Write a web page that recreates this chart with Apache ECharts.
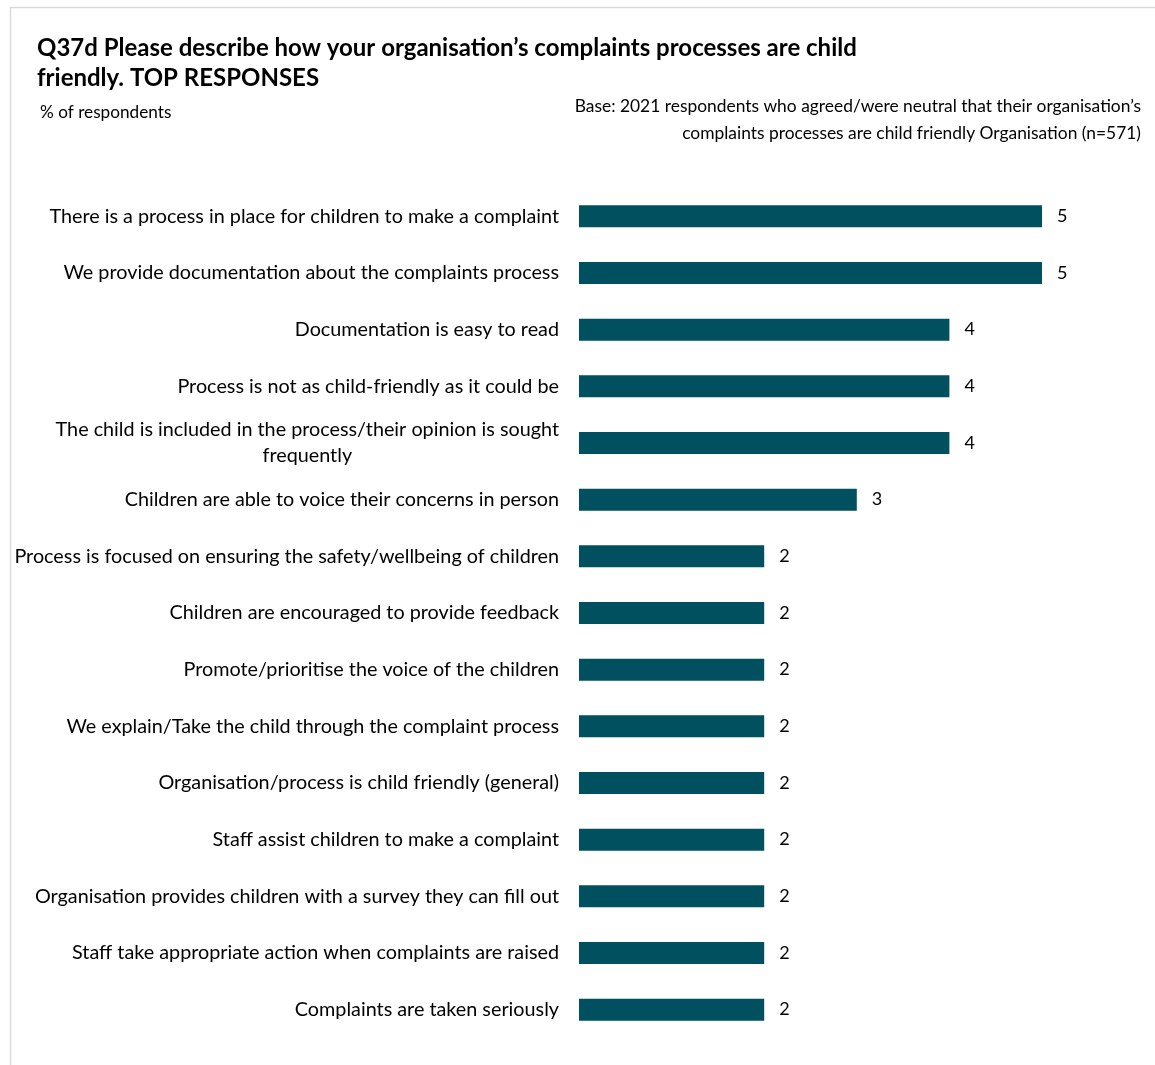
<!DOCTYPE html>
<html>
<head>
<meta charset="utf-8">
<script src="https://cdn.jsdelivr.net/npm/echarts@6/dist/echarts.min.js"></script>
<style>
html,body{margin:0;padding:0;background:#fff;}
#chart{width:1155px;height:1065px;}
</style>
</head>
<body>
<div id="chart"></div>
<script>
const categories = [
  "There is a process in place for children to make a complaint",
  "We provide documentation about the complaints process",
  "Documentation is easy to read",
  "Process is not as child-friendly as it could be",
  "The child is included in the process/their opinion is sought\nfrequently",
  "Children are able to voice their concerns in person",
  "Process is focused on ensuring the safety/wellbeing of children",
  "Children are encouraged to provide feedback",
  "Promote/prioritise the voice of the children",
  "We explain/Take the child through the complaint process",
  "Organisation/process is child friendly (general)",
  "Staff assist children to make a complaint",
  "Organisation provides children with a survey they can fill out",
  "Staff take appropriate action when complaints are raised",
  "Complaints are taken seriously"
];
const values = [5, 5, 4, 4, 4, 3, 2, 2, 2, 2, 2, 2, 2, 2, 2];

const titleText = "Q37d Please describe how your organisation\u2019s complaints processes are child\nfriendly. TOP RESPONSES";
const unitText = "% of respondents";
const baseText = "Base: 2021 respondents who agreed/were neutral that their organisation\u2019s\ncomplaints processes are child friendly Organisation (n=571)";

const FONT = "Lato";
const labelFontSize = 19.8;

// measure text width for centring wrapped label lines
const cv = document.createElement('canvas').getContext('2d');
cv.font = labelFontSize + 'px ' + FONT;
function tw(s){ return cv.measureText(s).width; }
const wrapWidth = tw("The child is included in the process/their opinion is sought");

const chart = echarts.init(document.getElementById('chart'), null, {renderer: 'canvas'});
chart.setOption({
  backgroundColor: '#fff',
  animation: false,
  textStyle: {fontFamily: FONT},
  graphic: [{
    type: 'rect', silent: true,
    shape: {x: 10.5, y: 7.5, width: 1300, height: 1300},
    style: {fill: 'none', stroke: '#d9d9d9', lineWidth: 1.5}
  }, {
    type: 'text', silent: true, x: 1141, y: 93,
    style: {text: baseText, align: 'right', verticalAlign: 'top', fontFamily: FONT,
            fontSize: 17.4, lineHeight: 27, fill: '#000'}
  }],
  title: [
    {text: titleText, left: 37, top: 33, padding: 0,
     textStyle: {fontFamily: FONT, fontSize: 24, fontWeight: 'bold', color: '#000', lineHeight: 30}},
    {text: unitText, left: 40, top: 104, padding: 0,
     textStyle: {fontFamily: FONT, fontSize: 17.2, fontWeight: 'normal', color: '#000'}}
  ],
  grid: {left: 579, width: 463, top: 188, height: 850, containLabel: false},
  xAxis: {type: 'value', min: 0, max: 5, show: false},
  yAxis: {
    type: 'category', data: categories, inverse: true,
    axisLine: {show: false}, axisTick: {show: false}, splitLine: {show: false},
    axisLabel: {
      color: '#000', fontSize: labelFontSize, fontFamily: FONT, margin: 20, lineHeight: 26,
      formatter: function (v) {
        const parts = v.split('\n');
        if (parts.length === 1) return v;
        return parts.map(p => '{c|' + p + '}').join('\n');
      },
      rich: {c: {fontSize: labelFontSize, fontFamily: FONT, color: '#000', lineHeight: 26,
                 width: wrapWidth, align: 'center'}}
    }
  },
  series: [{
    type: 'bar', data: values, barWidth: 22,
    itemStyle: {color: '#01505F'},
    label: {show: true, position: 'right', distance: 15, color: '#000', fontSize: 18, fontFamily: FONT}
  }]
});
</script>
</body>
</html>
